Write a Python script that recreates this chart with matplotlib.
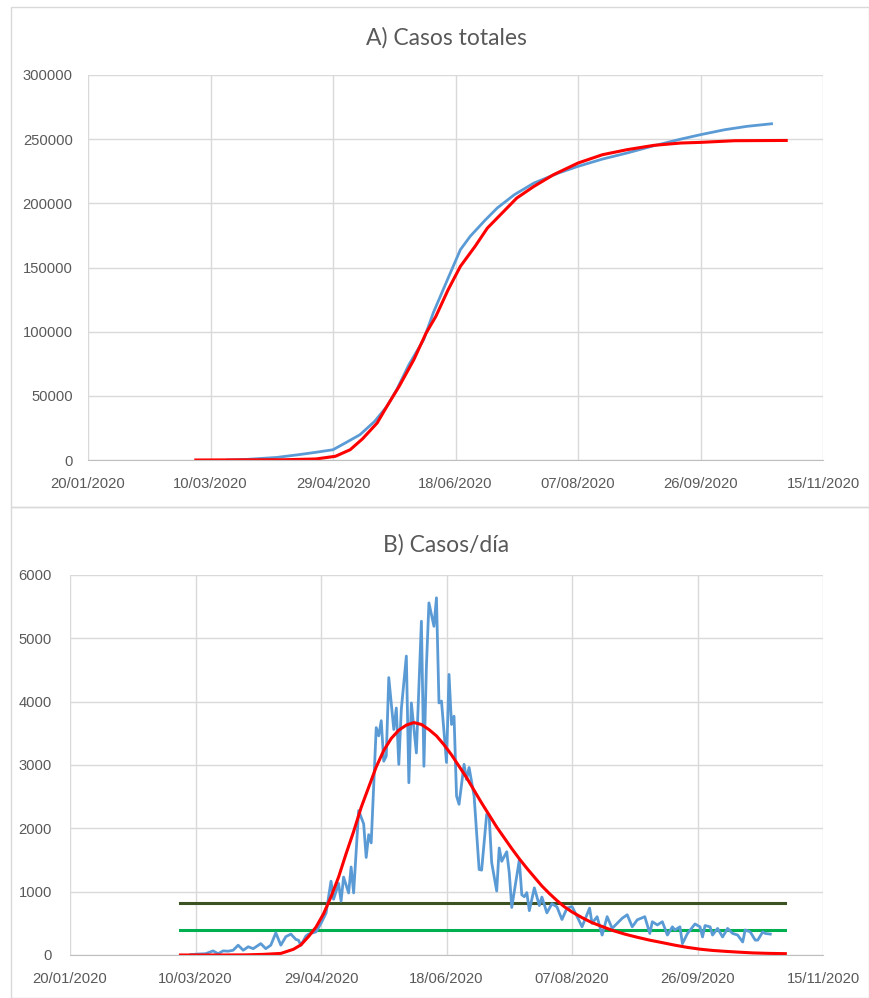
import datetime as dt
import matplotlib
matplotlib.use('Agg')
import matplotlib.pyplot as plt
import matplotlib.dates as mdates
from matplotlib.patches import Rectangle

plt.rcParams['font.family'] = ['Liberation Sans', 'DejaVu Sans']

start = dt.date(2020, 1, 20)

# cumulative cases (days after 20/01/2020, value)
tot_days = [57, 65, 77, 86, 93, 100, 105, 111, 117, 122, 126, 131, 137, 141, 147, 152, 156,
            162, 167, 174, 182, 192, 200, 210, 220, 230, 241, 250, 260, 269, 279]
tot_vals = [0, 500, 2000, 4150, 6000, 8000, 13250, 19700, 30100, 41800, 54800, 74300, 93750,
            115000, 141800, 163900, 174300, 186700, 196300, 206700, 215800, 223600, 228800,
            234500, 239200, 244400, 249600, 253500, 257400, 260000, 262000]

# model cumulative
mod_tot_days = [44, 80, 93, 101, 107, 112, 118, 122, 127, 133, 138, 142, 147, 152, 158, 163,
                169, 175, 182, 190, 200, 210, 220, 231, 242, 250, 264, 285]
mod_tot_vals = [0, 200, 800, 2900, 8000, 16400, 28800, 41800, 57400, 78200, 98900, 112000,
                132700, 150900, 166500, 180700, 192400, 204100, 213200, 222300, 231400, 237900,
                241800, 245200, 247000, 247500, 248800, 249000]

# daily cases
day_days = [48, 51, 54, 57, 59, 61, 63, 65, 67, 69, 71, 73, 76, 78, 80, 82, 84, 86, 88, 90, 91,
            92, 94, 95, 98, 100, 102, 104, 105, 107, 108, 109, 111, 112, 113, 115, 117, 118, 119,
            120, 122, 123, 124, 125, 126, 127, 129, 130, 131, 132, 134, 135, 136, 138, 140, 141,
            142, 143, 145, 146, 147, 148, 150, 151, 152, 153, 154, 155, 157, 158, 159, 161, 163,
            164, 166, 167, 168, 170, 171, 172, 174, 175, 176, 179, 180, 181, 182, 183, 185, 187,
            188, 190, 192, 194, 196, 198, 200, 202, 204, 207, 208, 210, 212, 214, 216, 218, 220,
            222, 224, 226, 229, 231, 232, 234, 236, 238, 240, 241, 243, 244, 246, 249, 251, 252,
            253, 255, 256, 258, 260, 262, 264, 266, 268, 269, 271, 273, 274, 276, 277, 279]
day_vals = [5, 15, 20, 65, 20, 65, 60, 75, 155, 75, 130, 100, 180, 100, 155, 350, 155, 290, 330,
            245, 235, 155, 300, 330, 365, 500, 660, 1165, 880, 1130, 850, 1230, 980, 1390, 980,
            2280, 2070, 1540, 1900, 1770, 3590, 3460, 3700, 3060, 3140, 4380, 3560, 3900, 3010,
            3880, 4720, 2720, 3980, 3190, 5270, 2980, 4560, 5560, 5190, 5640, 3980, 4010, 3040,
            4430, 3640, 3770, 2510, 2380, 3010, 2770, 2960, 2510, 1350, 1340, 2220, 2190, 1460,
            1010, 1690, 1480, 1630, 1300, 750, 1500, 950, 920, 985, 700, 1060, 780, 915, 665, 810,
            760, 560, 740, 765, 610, 445, 740, 500, 605, 315, 605, 420, 500, 580, 635, 445, 555,
            605, 340, 525, 475, 525, 315, 445, 395, 445, 180, 340, 490, 445, 285, 465, 445, 315,
            420, 285, 420, 340, 315, 205, 395, 365, 235, 235, 365, 340, 330]

# model daily
mod_day_days = [44, 60, 70, 77, 84, 89, 92, 95, 98, 101, 104, 107, 110, 113, 116, 119, 122, 125,
                128, 131, 134, 137, 140, 143, 146, 149, 152, 155, 158, 161, 164, 167, 170, 173,
                176, 179, 182, 185, 188, 191, 194, 197, 200, 204, 208, 212, 216, 221, 226, 231,
                236, 241, 246, 251, 256, 261, 266, 272, 278, 285]
mod_day_vals = [0, 0, 2, 10, 25, 90, 160, 290, 440, 650, 920, 1230, 1600, 1950, 2330, 2650, 2970,
                3230, 3420, 3550, 3630, 3670, 3640, 3560, 3460, 3320, 3160, 2980, 2800, 2600, 2400,
                2210, 2020, 1850, 1680, 1520, 1370, 1230, 1090, 970, 860, 760, 680, 590, 510, 450,
                390, 330, 280, 234, 195, 155, 120, 92, 72, 58, 46, 33, 26, 21]

line_days = [44, 285]
level_high = 820
level_low = 400

tick_days = [0, 50, 100, 150, 200, 250, 300]


def to_dates(days):
    return [start + dt.timedelta(days=int(d)) for d in days]


grey = '#595959'
gridc = '#D9D9D9'

fig = plt.figure(figsize=(8.7, 9.98), dpi=100)
W, H = 870, 998

# panel frames
for (x0, y0, x1, y1) in [(11, 7, 869, 507), (11, 507, 869, 998)]:
    fig.add_artist(Rectangle((x0 / W, 1 - y1 / H), (x1 - x0) / W, (y1 - y0) / H,
                             transform=fig.transFigure, fill=False, ec=gridc, lw=1.0))


def style(ax, ymax, ystep, ypad):
    ax.set_xlim(start, start + dt.timedelta(days=300))
    ax.set_ylim(0, ymax)
    ax.set_xticks(to_dates(tick_days))
    ax.xaxis.set_major_formatter(mdates.DateFormatter('%d/%m/%Y'))
    ax.set_yticks(range(0, ymax + 1, ystep))
    ax.grid(True, color=gridc, lw=1.0)
    ax.set_axisbelow(True)
    for s in ['top', 'right', 'left']:
        ax.spines[s].set_visible(False)
    ax.spines['bottom'].set_color('#BFBFBF')
    ax.tick_params(length=0, colors=grey, labelsize=10.6)
    ax.tick_params(axis='x', pad=12)
    ax.tick_params(axis='y', pad=ypad)


ax1 = fig.add_axes([88 / W, 1 - 460 / H, (823 - 88) / W, (460 - 75) / H])
ax1.plot(to_dates(tot_days), tot_vals, color='#5B9BD5', lw=2.0)
ax1.plot(to_dates(mod_tot_days), mod_tot_vals, color='#FF0000', lw=2.2)
style(ax1, 300000, 50000, 11)
fig.text(446 / W, 1 - 38 / H, 'A) Casos totales', ha='center', va='center',
         fontsize=16.5, color=grey, family='Lato')

ax2 = fig.add_axes([70 / W, 1 - 955 / H, (823 - 70) / W, (955 - 575) / H])
ax2.plot(to_dates(line_days), [level_high, level_high], color='#3B5323', lw=2.2)
ax2.plot(to_dates(line_days), [level_low, level_low], color='#00B050', lw=2.2)
ax2.plot(to_dates(day_days), day_vals, color='#5B9BD5', lw=2.0)
ax2.plot(to_dates(mod_day_days), mod_day_vals, color='#FF0000', lw=2.2)
style(ax2, 6000, 1000, 13)
fig.text(446 / W, 1 - 545 / H, 'B) Casos/día', ha='center', va='center',
         fontsize=16.5, color=grey, family='Lato')

fig.savefig('out.png', dpi=100, facecolor='white')
